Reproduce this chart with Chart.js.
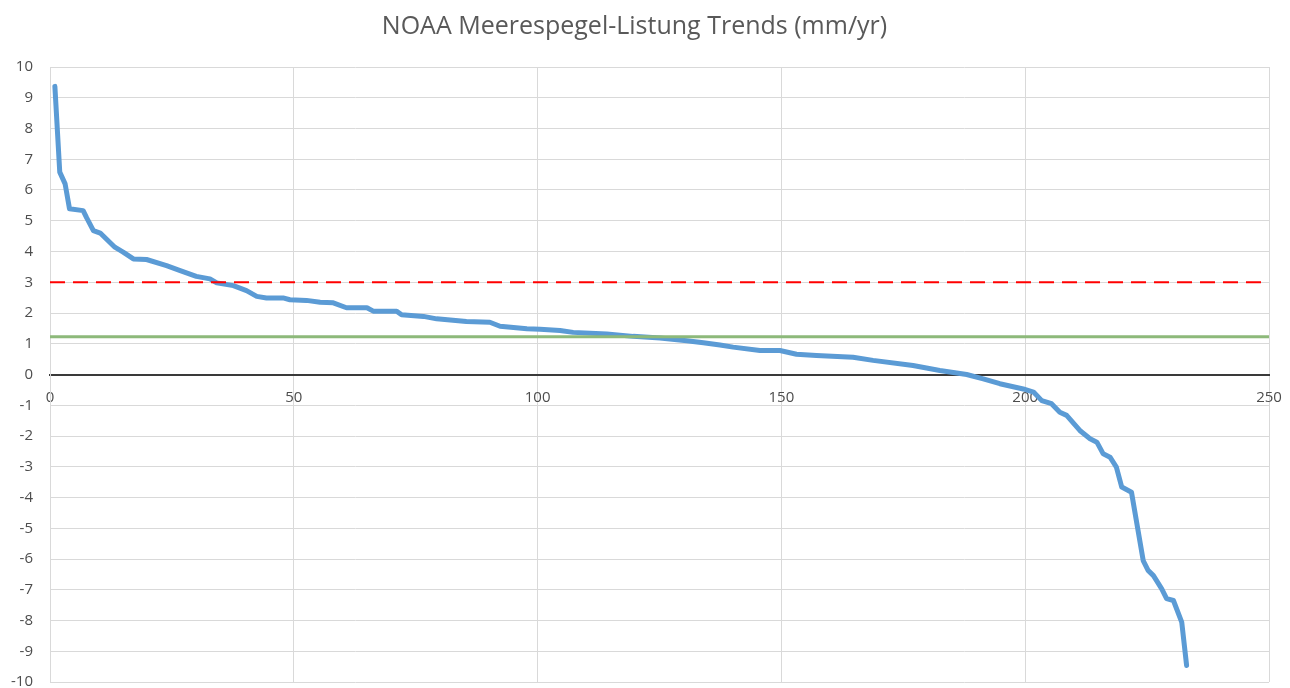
<!DOCTYPE html>
<html>
<head>
<meta charset="utf-8">
<script src="https://cdn.jsdelivr.net/npm/chart.js@4/dist/chart.umd.min.js"></script>
<style>
  html, body { margin: 0; padding: 0; background: #fff; }
  #wrap { width: 1290px; height: 688px; }
</style>
</head>
<body>
<div id="wrap"><canvas id="chart" width="1290" height="688"></canvas></div>
<script>
// Rang der Station (sortiert) und Trend in mm/yr
const rang = [1, 2, 3.1, 4, 6.8, 7.5, 8.9, 10.3, 13.3, 15, 17.1, 19.8, 23.9, 26.7, 30, 32.8, 34.2, 37.6, 40.3, 42.4,
  44.4, 47.8, 49.2, 52.6, 55.4, 58.1, 60.8, 65, 66.3, 71.1, 72.1, 76.6, 79.3, 85.4, 90.2, 92.3, 97.8, 100.5, 104.6, 107.3,
  114.2, 119.6, 125.1, 130.6, 134, 137.4, 140.1, 145.6, 149.7, 153.1, 157.2, 164.7, 168.8, 177, 182.5, 188, 191.4, 194.8, 199.6, 201.7,
  203.4, 205.4, 207.1, 208.5, 211.2, 213.3, 214.7, 216, 217.4, 218.7, 219.8, 221.8, 224.2, 225.2, 226.3, 228, 229, 230.4, 232.1, 233.1];
const trend = [9.37, 6.58, 6.2, 5.39, 5.33, 5.1, 4.68, 4.6, 4.14, 3.98, 3.76, 3.74, 3.54, 3.38, 3.19, 3.11, 2.98, 2.89, 2.73, 2.54,
  2.49, 2.49, 2.43, 2.41, 2.35, 2.33, 2.17, 2.17, 2.06, 2.06, 1.94, 1.89, 1.81, 1.72, 1.70, 1.57, 1.49, 1.47, 1.43, 1.37,
  1.32, 1.24, 1.19, 1.10, 1.03, 0.96, 0.89, 0.78, 0.78, 0.66, 0.62, 0.56, 0.46, 0.29, 0.13, 0.0, -0.14, -0.30, -0.47, -0.57,
  -0.85, -0.95, -1.23, -1.33, -1.82, -2.09, -2.2, -2.58, -2.69, -3.01, -3.66, -3.83, -6.05, -6.37, -6.54, -6.97, -7.29, -7.35, -8.05, -9.46];

// Referenzlinien
const linieRot = 3.0;
const linieGruen = 1.23;
const xBereich = [0, 250];

const titel = 'NOAA Meerespegel-Listung Trends (mm/yr)';

const punkte = rang.map((x, i) => ({ x: x, y: trend[i] }));
const rot = xBereich.map(x => ({ x: x, y: linieRot }));
const gruen = xBereich.map(x => ({ x: x, y: linieGruen }));

const schrift = '"Open Sans", "Liberation Sans", sans-serif';

new Chart(document.getElementById('chart'), {
    type: 'line',
    data: {
        datasets: [
            {
                data: rot,
                borderColor: '#ff0000',
                borderWidth: 2,
                borderDash: [15, 8],
                pointRadius: 0
            },
            {
                data: gruen,
                borderColor: '#8db97a',
                borderWidth: 3,
                pointRadius: 0
            },
            {
                data: punkte,
                borderColor: '#5b9bd5',
                borderWidth: 5,
                pointRadius: 0,
                tension: 0,
                borderJoinStyle: 'round',
                borderCapStyle: 'round'
            }
        ]
    },
    options: {
        responsive: false,
        animation: false,
        layout: { padding: { left: 0, right: 21, top: 0, bottom: 6 } },
        plugins: {
            legend: { display: false },
            tooltip: { enabled: false },
            title: {
                display: true,
                text: titel,
                color: '#595959',
                font: { family: schrift, size: 25, weight: 'normal' },
                padding: { top: 12, bottom: 25 }
            }
        },
        scales: {
            x: {
                type: 'linear',
                position: { y: 0 },
                min: 0,
                max: 250,
                ticks: { stepSize: 50, color: '#4d4d4d', font: { family: schrift, size: 15 }, padding: 14 },
                grid: { color: '#d9d9d9', drawTicks: false },
                border: { color: '#3a3a3a', width: 2 },
                afterFit: function (s) {
                    s.paddingLeft = 0;
                    s.paddingRight = 0;
                }
            },
            y: {
                min: -10,
                max: 10,
                ticks: { stepSize: 1, color: '#4d4d4d', font: { family: schrift, size: 15 }, padding: 17 },
                grid: { color: '#d9d9d9', drawTicks: false },
                border: { color: '#d9d9d9', width: 1 },
                afterFit: function (s) {
                    s.width = 50;
                    s.paddingTop = 0;
                    s.paddingBottom = 0;
                }
            }
        }
    }
});
</script>
</body>
</html>
